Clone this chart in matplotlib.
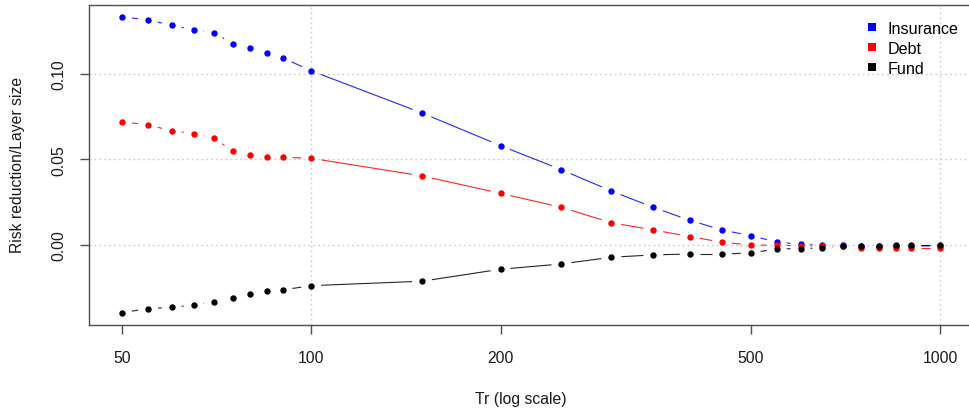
import numpy as np
import matplotlib
matplotlib.use("Agg")
import matplotlib.pyplot as plt
from matplotlib.lines import Line2D

plt.rcParams["font.family"] = ["Liberation Sans", "DejaVu Sans"]

# Return period (years) and risk reduction per unit layer size
tr = [50, 55, 60, 65, 70, 75, 80, 85, 90, 100, 150, 200, 250, 300, 350, 400,
      450, 500, 550, 600, 650, 700, 750, 800, 850, 900, 1000]
insurance = [0.1335, 0.1316, 0.1285, 0.1259, 0.1242, 0.1177, 0.1152, 0.1121,
             0.1095, 0.1019, 0.0772, 0.0581, 0.0440, 0.0316, 0.0220, 0.0144,
             0.0088, 0.0054, 0.0018, 0.0004, 0.0002, 0.0000, -0.0005,
             -0.0006, -0.0005, -0.0005, -0.0006]
debt = [0.0721, 0.0702, 0.0668, 0.0651, 0.0626, 0.0548, 0.0525, 0.0513,
        0.0513, 0.0507, 0.0404, 0.0302, 0.0220, 0.0130, 0.0088, 0.0049,
        0.0016, 0.0000, -0.0002, -0.0004, -0.0007, -0.0008, -0.0018,
        -0.0020, -0.0018, -0.0018, -0.0018]
fund = [-0.0396, -0.0372, -0.0365, -0.0351, -0.0333, -0.0308, -0.0288,
        -0.0271, -0.0263, -0.0238, -0.0212, -0.0142, -0.0111, -0.0072,
        -0.0058, -0.0053, -0.0053, -0.0047, -0.0023, -0.0021, -0.0018,
        -0.0004, -0.0007, -0.0006, -0.0001, -0.0001, -0.0001]

series_names = ["Insurance", "Debt", "Fund"]
series_colors = ["#0000ff", "#ff0000", "#000000"]
x_ticks = [50, 100, 200, 500, 1000]
y_ticks = [0.0, 0.05, 0.10]
y_tick_labels = ["0.00", "0.05", "0.10"]
x_grid = [100, 1000]

W, H, DPI = 970, 414, 100
fig = plt.figure(figsize=(W / DPI, H / DPI), dpi=DPI)
left, right, top, bottom = 89.3, 972.7, 5.9, 325.5
ax = fig.add_axes([left / W, 1 - bottom / H, (right - left) / W, (bottom - top) / H])

ax.set_xscale("log")
# 4% padding on both axes (log-space for x)
lx = np.log10([min(tr), max(tr)])
pad = 0.04 * (lx[1] - lx[0])
ax.set_xlim(10 ** (lx[0] - pad), 10 ** (lx[1] + pad))
allv = np.concatenate([insurance, debt, fund])
ypad = 0.04 * (allv.max() - allv.min())
ax.set_ylim(allv.min() - ypad, allv.max() + ypad)

# grid
for g in y_ticks:
    ax.axhline(g, color="#d3d3d3", lw=1.0, ls=(0, (1.5, 2)), zorder=0)
for g in x_grid:
    ax.axvline(g, color="#d3d3d3", lw=1.0, ls=(0, (1.5, 2)), zorder=0)

fig.canvas.draw()
to_px = ax.transData
to_data = ax.transData.inverted()
GAP = 10.0  # pixels left empty around each point

for i, (vals, col) in enumerate(zip([insurance, debt, fund], series_colors)):
    pts = to_px.transform(np.column_stack([tr, vals]))
    for p0, p1 in zip(pts[:-1], pts[1:]):
        d = p1 - p0
        L = np.hypot(*d)
        if L <= 2 * GAP:
            continue
        u = d / L
        a = p0 + u * GAP
        b = p1 - u * GAP
        seg = to_data.transform(np.vstack([a, b]))
        ax.plot(seg[:, 0], seg[:, 1], color=col, lw=0.8, alpha=0.85,
                solid_capstyle="butt", zorder=2 + 2 * i)
    ax.plot(tr, vals, ls="none", marker="o", ms=4.6, color=col,
            markeredgewidth=0, zorder=3 + 2 * i)

# axes styling
for s in ax.spines.values():
    s.set_color("#4d4d4d")
    s.set_linewidth(1.0)
ax.set_xticks(x_ticks)
ax.set_xticklabels([str(t) for t in x_ticks])
ax.xaxis.set_minor_locator(matplotlib.ticker.NullLocator())
ax.set_yticks(y_ticks)
ax.set_yticklabels(y_tick_labels, rotation=90, va="center")
ax.tick_params(axis="both", length=6.5, width=1.0, color="#4d4d4d",
               labelsize=11.3, labelcolor="#1a1a1a")
ax.tick_params(axis="x", pad=12)
ax.tick_params(axis="y", pad=10)

fig.text(521 / W, 1 - 400 / H, "Tr (log scale)", ha="center", va="center",
         fontsize=11.3, color="#1a1a1a")
fig.text(18 / W, 1 - 165 / H, "Risk reduction/Layer size", ha="center",
         va="center", rotation=90, fontsize=11.3, color="#1a1a1a")

handles = [Line2D([], [], ls="none", marker="s", ms=6, color=c,
                  markeredgewidth=0) for c in series_colors]
ax.legend(handles, series_names, loc="upper left",
          bbox_to_anchor=(864.2 / W, 1 - 22 / H), bbox_transform=fig.transFigure,
          frameon=False, borderpad=0, borderaxespad=0, handlelength=1.0,
          handletextpad=0.45, labelspacing=0.31, fontsize=11.6)

fig.savefig("out.png", dpi=DPI)
